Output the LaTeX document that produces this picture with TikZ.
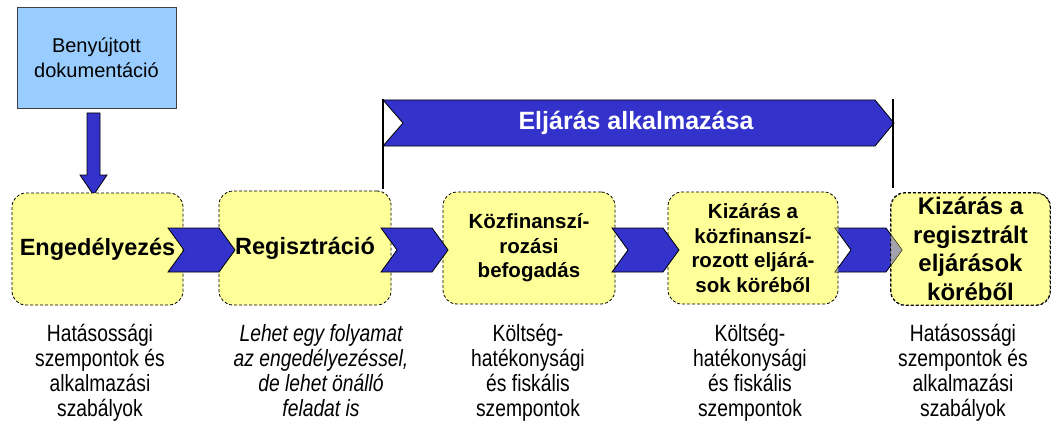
\documentclass[tikz,border=0pt]{standalone}
\usepackage{fontspec}
\setmainfont{Liberation Sans}
\newfontfamily\narrowfont[FakeStretch=0.82]{Liberation Sans}
\definecolor{arrowblue}{HTML}{3333CC}
\definecolor{boxyellow}{HTML}{FFFF99}
\definecolor{docblue}{HTML}{99CCFF}
\newcommand\mychev[2]{\draw[chev] (#1,228) -- ++(51,0) -- ++(16,22) -- ++(-16,22) -- ++(-51,0) -- ++(16,-22) -- cycle;}
\begin{document}
\begin{tikzpicture}[x=1pt,y=-1pt,
  ybox/.style={draw=black, dash pattern=on 3pt off 2pt, line width=0.8pt, fill=boxyellow,
    rounded corners=14pt, inner sep=0pt, align=center},
  chev/.style={draw=black, fill=arrowblue, line width=0.8pt, line join=miter},
  btext/.style={align=center, anchor=base, inner sep=0pt,
    font={\narrowfont\fontsize{23.5}{25}\selectfont}},
  bigbold/.style={font={\bfseries\fontsize{23.5}{28}\selectfont}},
  midbold/.style={font={\bfseries\fontsize{20.5}{24.5}\selectfont}},
  largebold/.style={font={\bfseries\fontsize{24}{28.5}\selectfont}}]
\useasboundingbox (0,0) rectangle (1056,433);

% submitted documentation box
\node[draw=black!75, line width=0.8pt, fill=docblue, minimum width=159pt, minimum height=101pt,
  inner sep=0pt, align=center, font={\fontsize{20}{25.5}\selectfont}] (doc) at (96.5,57.5)
  {Benyújtott\\dokumentáció};
\draw[chev] (87,113) -- (100,113) -- (100,175) -- (107,175) -- (93.5,195) -- (80,175) -- (87,175) -- cycle;

% banner
\draw[chev] (383,100) -- (875,100) -- (894,123) -- (875,146) -- (383,146) -- (403,123) -- cycle;
\node[text=white, font={\bfseries\fontsize{25}{30}\selectfont}] (banner) at (636,123) {Eljárás alkalmazása};
\coordinate (l1) at (383,99);
\coordinate (l2) at (383,189);
\coordinate (r1) at (893,99);
\coordinate (r2) at (893,188);
\draw[line width=2.5pt] (l1) -- (l2);
\draw[line width=2.5pt] (r1) -- (r2);

% process boxes
\node[ybox, bigbold, minimum width=171pt, minimum height=112pt] (b1) at (97.5,249) {Engedélyezés};
\node[ybox, bigbold, minimum width=172pt, minimum height=114pt] (b2) at (305,248) {Regisztráció};
\node[ybox, midbold, minimum width=172pt, minimum height=112pt] (b3) at (529,248) {Közfinanszí-\\rozási\\befogadás};
\node[ybox, midbold, minimum width=170pt, minimum height=112pt] (b4) at (753,248) {Kizárás a\\közfinanszí-\\rozott eljárá-\\sok köréből};
\node[ybox, largebold, minimum width=159pt, minimum height=112pt] (b5) at (970.5,249) {Kizárás a\\regisztrált\\eljárások\\köréből};

% chevrons
\mychev{168}{a1}
\mychev{381}{a2}
\mychev{612}{a3}
\mychev{835}{a4}
\begin{scope}
  \clip[rounded corners=14pt] (b5.south west) rectangle (b5.north east);
  \fill[boxyellow, opacity=0.55] (835,228) -- ++(51,0) -- ++(16,22) -- ++(-16,22) -- ++(-51,0) -- ++(16,-22) -- cycle;
\end{scope}
\begin{scope}
  \clip[rounded corners=14pt] (b4.south west) rectangle (b4.north east);
  \fill[boxyellow, opacity=0.55] (835,228) -- ++(51,0) -- ++(16,22) -- ++(-16,22) -- ++(-51,0) -- ++(16,-22) -- cycle;
\end{scope}
\draw[dash pattern=on 3pt off 2pt, line width=0.8pt, rounded corners=14pt] (b5.south west) rectangle (b5.north east);

% bottom texts (base anchor = last line baseline)
\node[btext] (t1) at (100,416) {Hatásossági\\szempontok és\\alkalmazási\\szabályok};
\node[btext, font={\narrowfont\itshape\fontsize{23.5}{25}\selectfont}] (t2) at (321,416) {Lehet egy folyamat\\az engedélyezéssel,\\de lehet önálló\\feladat is};
\node[btext] (t3) at (528,416) {Költség-\\hatékonysági\\és fiskális\\szempontok};
\node[btext] (t4) at (750,416) {Költség-\\hatékonysági\\és fiskális\\szempontok};
\node[btext] (t5) at (963,416) {Hatásossági\\szempontok és\\alkalmazási\\szabályok};
\end{tikzpicture}
\end{document}
